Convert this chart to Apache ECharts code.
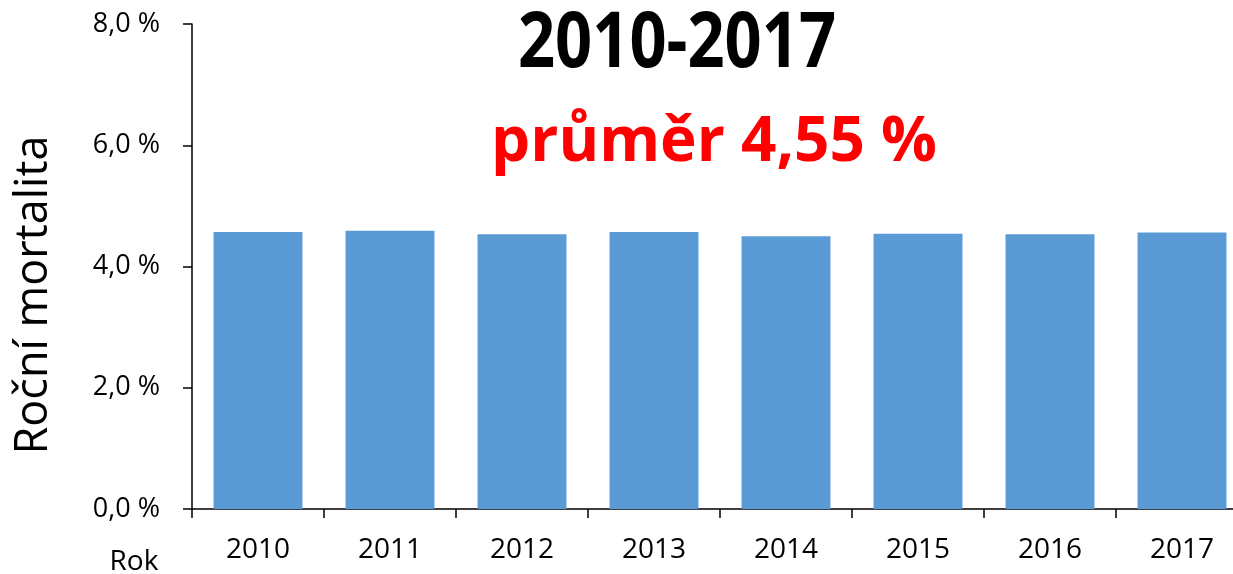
<!DOCTYPE html>
<html>
<head>
<meta charset="utf-8">
<script src="https://cdn.jsdelivr.net/npm/echarts@6/dist/echarts.min.js"></script>
<style>
  html, body { margin: 0; padding: 0; background: #fff; }
  #chart { width: 1233px; height: 574px; }
</style>
</head>
<body>
<div id="chart"></div>
<script>
// Annual mortality by year, in percent
const years = ['2010', '2011', '2012', '2013', '2014', '2015', '2016', '2017'];
const mortality = [4.57, 4.59, 4.53, 4.57, 4.50, 4.54, 4.53, 4.56];
const yTickLabels = ['0,0 %', '2,0 %', '4,0 %', '6,0 %', '8,0 %'];

const periodTitle = '2010-2017';
const averageText = 'průměr 4,55 %';
const yAxisTitle = 'Roční mortalita';
const xAxisTitle = 'Rok';

const FONT = '"Open Sans", "Noto Sans", sans-serif';

const chart = echarts.init(document.getElementById('chart'), null, { renderer: 'canvas' });

chart.setOption({
  backgroundColor: '#ffffff',
  animation: false,
  // plot area runs slightly past the right edge of the canvas
  grid: {
    left: 192, top: 24, height: 485, width: 1056,
    containLabel: false, outerBoundsMode: 'none'
  },
  xAxis: {
    type: 'category',
    data: years,
    axisLine: { lineStyle: { color: '#000', width: 1.5 } },
    axisTick: { show: true, length: 9, alignWithLabel: false, lineStyle: { color: '#000', width: 1.5 } },
    axisLabel: { color: '#000', fontFamily: FONT, fontSize: 28, margin: 27 }
  },
  yAxis: {
    type: 'value',
    min: 0,
    max: 8,
    interval: 2,
    splitLine: { show: false },
    axisLine: { show: true, lineStyle: { color: '#000', width: 1.5 } },
    axisTick: { show: true, length: 9, lineStyle: { color: '#000', width: 1.5 } },
    axisLabel: {
      color: '#000', fontFamily: FONT, fontSize: 27, margin: 32,
      formatter: function (v) { return yTickLabels[Math.round(v / 2)]; }
    }
  },
  series: [{
    type: 'bar',
    data: mortality,
    barCategoryGap: '32.6%',
    itemStyle: { color: '#5B9BD5' }
  }],
  graphic: [
    {
      type: 'text',
      x: 677, y: 45,
      scaleY: 1.18,
      style: {
        text: periodTitle, fill: '#000', font: 'bold 65px ' + FONT,
        textAlign: 'center', textVerticalAlign: 'middle'
      }
    },
    {
      type: 'text',
      x: 714, y: 143,
      style: {
        text: averageText, fill: '#ff0000', font: 'bold 62px ' + FONT,
        textAlign: 'center', textVerticalAlign: 'middle'
      }
    },
    {
      type: 'text',
      x: 34, y: 295,
      rotation: Math.PI / 2,
      style: {
        text: yAxisTitle, fill: '#000', font: '45px ' + FONT,
        textAlign: 'center', textVerticalAlign: 'middle'
      }
    },
    {
      type: 'text',
      x: 134, y: 562,
      style: {
        text: xAxisTitle, fill: '#000', font: '28px ' + FONT,
        textAlign: 'center', textVerticalAlign: 'middle'
      }
    }
  ]
});
</script>
</body>
</html>
